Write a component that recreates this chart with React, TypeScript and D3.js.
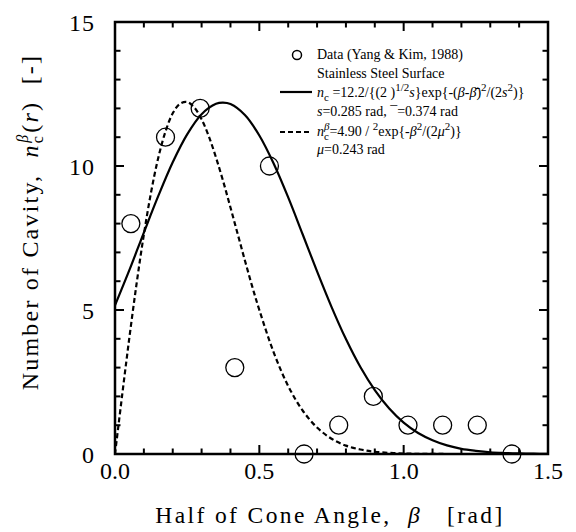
import React from "react";
import * as d3 from "d3";

// Data (Yang & Kim, 1988): half cone angle [rad] vs number of cavities
const dataBeta = [0.055, 0.175, 0.295, 0.415, 0.535, 0.655, 0.775, 0.895, 1.015, 1.135, 1.255, 1.375];
const dataCount = [8, 11, 12, 3, 10, 0, 1, 2, 1, 1, 1, 0];

// Solid fitted curve
const solidBeta = [0, 0.05, 0.1, 0.15, 0.2, 0.25, 0.3, 0.35, 0.374, 0.4, 0.45, 0.5, 0.55, 0.6, 0.65, 0.7, 0.75, 0.8, 0.85, 0.9, 0.95, 1.0, 1.05, 1.1, 1.15, 1.2, 1.25, 1.3, 1.35, 1.4, 1.45, 1.5];
const solidCount = [5.16, 6.39, 7.69, 8.96, 10.13, 11.10, 11.80, 12.16, 12.2, 12.15, 11.77, 11.06, 10.08, 8.91, 7.63, 6.34, 5.11, 3.99, 3.02, 2.22, 1.58, 1.09, 0.73, 0.48, 0.30, 0.18, 0.11, 0.06, 0.035, 0.02, 0.01, 0.005];

// Dashed fitted curve
const dashBeta = [0, 0.025, 0.05, 0.075, 0.1, 0.125, 0.15, 0.175, 0.2, 0.225, 0.25, 0.275, 0.3, 0.325, 0.35, 0.375, 0.4, 0.425, 0.45, 0.475, 0.5, 0.55, 0.6, 0.65, 0.7, 0.75, 0.8, 0.85, 0.9, 1.0, 1.1, 1.2, 1.5];
const dashCount = [0, 2.06, 4.06, 5.93, 7.62, 9.09, 10.29, 11.20, 11.83, 12.16, 12.22, 12.03, 11.62, 11.03, 10.29, 9.46, 8.56, 7.64, 6.72, 5.83, 5.0, 3.52, 2.36, 1.51, 0.92, 0.53, 0.29, 0.155, 0.078, 0.017, 0.003, 0.0, 0.0];

const xTickLabels = ["0.0", "0.5", "1.0", "1.5"];
const xTickValues = [0, 0.5, 1.0, 1.5];
const yTickLabels = ["0", "5", "10", "15"];
const yTickValues = [0, 5, 10, 15];

const FONT = "'Liberation Serif', 'Times New Roman', serif";

export default function App() {
  const W = 576, H = 532;
  const left = 115, right = 548, top = 22, bottom = 454;
  const x = d3.scaleLinear().domain([0, 1.5]).range([left, right]);
  const y = d3.scaleLinear().domain([0, 15]).range([bottom, top]);

  const line = d3.line<[number, number]>()
    .x(d => x(d[0]))
    .y(d => y(d[1]))
    .curve(d3.curveCatmullRom);

  const solidPath = line(solidBeta.map((b, i) => [b, solidCount[i]] as [number, number])) || "";
  const dashPath = line(dashBeta.map((b, i) => [b, dashCount[i]] as [number, number])) || "";

  const xMinor = d3.range(0, 1.5001, 0.1);
  const yMinor = d3.range(0, 15.001, 1);
  const isMajorX = (v: number) => Math.abs(v / 0.5 - Math.round(v / 0.5)) < 1e-6;
  const isMajorY = (v: number) => Math.abs(v / 5 - Math.round(v / 5)) < 1e-6;
  const majorLen = 9, minorLen = 5.5;

  const lx = 317, ly0 = 59, lh = 19;
  const sub = 11;

  return (
    <svg width={W} height={H} style={{ position: "absolute", left: 0, top: 0, background: "#fff", fontFamily: FONT }}>
      <rect x={0} y={0} width={W} height={H} fill="#fff" />
      <defs>
        <clipPath id="plotClip">
          <rect x={left} y={top} width={right - left} height={bottom - top} />
        </clipPath>
      </defs>

      {/* curves */}
      <g clipPath="url(#plotClip)">
        <path d={solidPath} fill="none" stroke="#000" strokeWidth={2.2} />
        <path d={dashPath} fill="none" stroke="#000" strokeWidth={2.2} strokeDasharray="5,3" />
      </g>

      {/* data points */}
      {dataBeta.map((b, i) => (
        <circle key={i} cx={x(b)} cy={y(dataCount[i])} r={9} fill="none" stroke="#000" strokeWidth={1.3} />
      ))}

      {/* ticks */}
      {xMinor.map((v, i) => {
        const len = isMajorX(v) ? majorLen : minorLen;
        return (
          <g key={"xt" + i}>
            <line x1={x(v)} x2={x(v)} y1={bottom} y2={bottom - len} stroke="#000" strokeWidth={2} />
            <line x1={x(v)} x2={x(v)} y1={top} y2={top + len} stroke="#000" strokeWidth={2} />
          </g>
        );
      })}
      {yMinor.map((v, i) => {
        const len = isMajorY(v) ? majorLen : minorLen;
        return (
          <g key={"yt" + i}>
            <line x1={left} x2={left + len} y1={y(v)} y2={y(v)} stroke="#000" strokeWidth={2} />
            <line x1={right} x2={right - len} y1={y(v)} y2={y(v)} stroke="#000" strokeWidth={2} />
          </g>
        );
      })}

      {/* frame */}
      <rect x={left} y={top} width={right - left} height={bottom - top} fill="none" stroke="#000" strokeWidth={2.5} />

      {/* tick labels */}
      {xTickValues.map((v, i) => (
        <text key={"xl" + i} x={x(v)} y={479} textAnchor="middle" fontSize={24}>{xTickLabels[i]}</text>
      ))}
      {yTickValues.map((v, i) => (
        <text key={"yl" + i} x={95} y={y(v) + 9} textAnchor="end" fontSize={24} letterSpacing={1}>{yTickLabels[i]}</text>
      ))}

      {/* axis titles */}
      <text x={330} y={523} textAnchor="middle" fontSize={23.5} letterSpacing={2.4} style={{ whiteSpace: "pre" }}>
        {"Half of Cone Angle,  "}<tspan fontStyle="italic">β</tspan>{"   [rad]"}
      </text>
      <text transform="translate(38,222) rotate(-90)" textAnchor="middle" fontSize={24} letterSpacing={2.2} style={{ whiteSpace: "pre" }}>
        {"Number of Cavity,  "}
        <tspan fontStyle="italic">n</tspan>
        <tspan fontSize={16} dy={5}>c</tspan>
        <tspan fontSize={16} fontStyle="italic" dx={-9} dy={-15}>β</tspan>
        <tspan dy={10}>(</tspan><tspan fontStyle="italic">r</tspan>{")  [-]"}
      </text>

      {/* legend */}
      <circle cx={297} cy={55} r={4.5} fill="none" stroke="#000" strokeWidth={1.5} />
      <line x1={280} x2={312} y1={92} y2={92} stroke="#000" strokeWidth={2.2} />
      <line x1={280} x2={312} y1={132} y2={132} stroke="#000" strokeWidth={2.2} strokeDasharray="5,3" />
      <g fontSize={14} style={{ whiteSpace: "pre" }}>
        <text x={lx} y={ly0}>Data (Yang &amp; Kim, 1988)</text>
        <text x={lx} y={ly0 + lh}>Stainless Steel Surface</text>
        <text x={lx} y={ly0 + 2 * lh - 0.5}>
          <tspan fontStyle="italic">n</tspan>
          <tspan fontSize={sub} dy={4}>c</tspan>
          <tspan dy={-4}>{" =12.2/{(2    )"}</tspan>
          <tspan fontSize={sub} dy={-6}>1/2</tspan>
          <tspan fontStyle="italic" dy={6}>s</tspan>
          <tspan>{"}exp{-("}</tspan>
          <tspan fontStyle="italic">β</tspan>
          <tspan>-</tspan>
          <tspan fontStyle="italic">β̄</tspan>
          <tspan>)</tspan>
          <tspan fontSize={sub} dy={-6}>2</tspan>
          <tspan dy={6}>/(2</tspan>
          <tspan fontStyle="italic">s</tspan>
          <tspan fontSize={sub} dy={-6}>2</tspan>
          <tspan dy={6}>{")}"}</tspan>
        </text>
        <text x={lx} y={ly0 + 3 * lh}>
          <tspan fontStyle="italic">s</tspan>
          <tspan>{"=0.285 rad,   ¯=0.374 rad"}</tspan>
        </text>
        <text x={lx} y={ly0 + 4 * lh + 1}>
          <tspan fontStyle="italic">n</tspan>
          <tspan fontSize={sub} dy={4}>c</tspan>
          <tspan fontSize={sub} fontStyle="italic" dy={-10} dx={-5}>β</tspan>
          <tspan dy={6}>{"=4.90   /   "}</tspan>
          <tspan fontSize={sub} dy={-6}>2</tspan>
          <tspan dy={6}>{"exp{-"}</tspan>
          <tspan fontStyle="italic">β</tspan>
          <tspan fontSize={sub} dy={-6}>2</tspan>
          <tspan dy={6}>/(2</tspan>
          <tspan fontStyle="italic">μ</tspan>
          <tspan fontSize={sub} dy={-6}>2</tspan>
          <tspan dy={6}>{")}"}</tspan>
        </text>
        <text x={lx} y={ly0 + 5 * lh}>
          <tspan fontStyle="italic">μ</tspan>
          <tspan>=0.243 rad</tspan>
        </text>
      </g>
    </svg>
  );
}
